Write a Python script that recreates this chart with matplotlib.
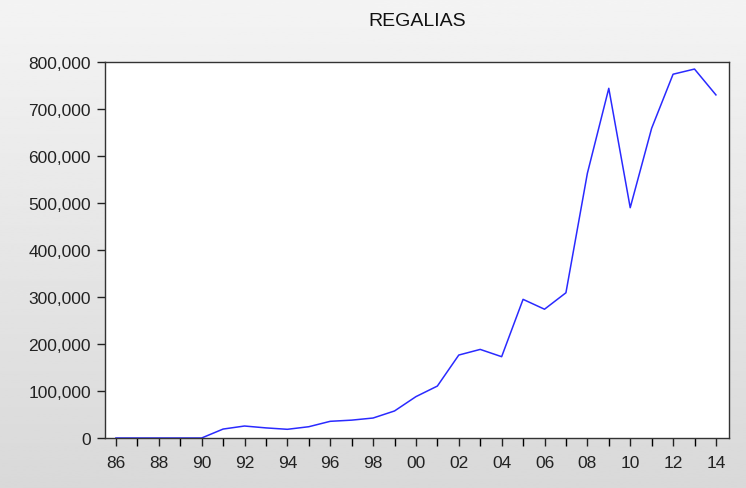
import numpy as np
import matplotlib
matplotlib.use('Agg')
import matplotlib.pyplot as plt
from matplotlib.ticker import FuncFormatter, MultipleLocator

years = list(range(1986, 2015))
regalias = [0, 0, 0, 0, 0, 19000, 25500, 21500, 18500, 24000,
            35500, 38000, 42500, 57500, 88000, 110500, 176500, 188500,
            173000, 295000, 274000, 309000, 563000, 744000, 490000,
            659000, 774000, 785000, 730000]
x_labels = ['86', '88', '90', '92', '94', '96', '98', '00',
            '02', '04', '06', '08', '10', '12', '14']

plt.rcParams['font.family'] = ['Liberation Sans', 'DejaVu Sans']

fig = plt.figure(figsize=(7.46, 4.89), dpi=100)

# fondo gris degradado
bg = fig.add_axes([0, 0, 1, 1], zorder=-1)
grad = np.linspace(0.955, 0.85, 256).reshape(-1, 1)
bg.imshow(grad, aspect='auto', cmap='gray', vmin=0, vmax=1,
          extent=[0, 1, 0, 1])
bg.axis('off')

W, H = 746, 489
ax = fig.add_axes([105 / W, 1 - 439 / H, (729 - 105) / W, (439 - 63) / H])
ax.plot(years, regalias, color='#2a2aff', linewidth=1.1)

ax.set_xlim(1985.49, 2014.61)
ax.set_ylim(0, 800000)
ax.set_xticks(years, minor=True)
ax.set_xticks(years[::2])
ax.set_xticklabels(x_labels)
ax.yaxis.set_major_locator(MultipleLocator(100000))
ax.yaxis.set_major_formatter(FuncFormatter(lambda v, p: f'{int(v):,}'))
ax.tick_params(axis='both', direction='out', length=6, width=1,
               labelsize=12.5, colors='#222222', pad=4)
ax.tick_params(axis='x', pad=6)
ax.tick_params(axis='x', which='minor', direction='out', length=6, width=1)
for s in ax.spines.values():
    s.set_color('#333333')
    s.set_linewidth(1)
ax.set_facecolor('white')

fig.text(417 / W, 1 - 22 / H, 'REGALIAS', ha='center', va='center',
         fontsize=14, color='#111111')

fig.savefig('out.png', dpi=100)
